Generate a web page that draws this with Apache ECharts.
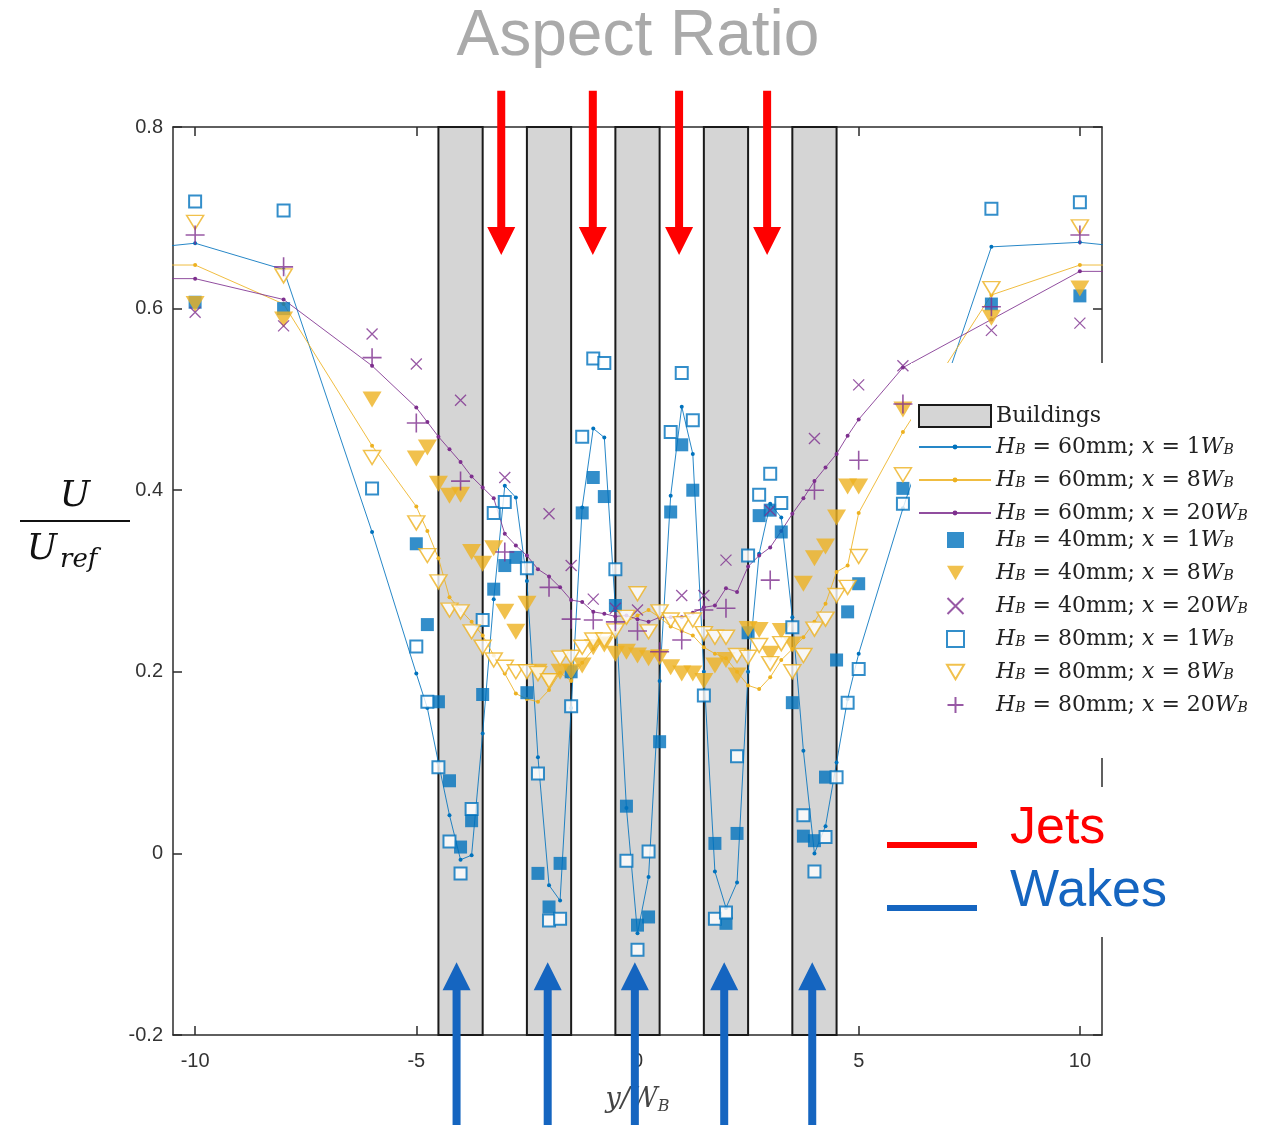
<!DOCTYPE html>
<html>
<head>
<meta charset="utf-8">
<title>Aspect Ratio</title>
<script src="https://cdn.jsdelivr.net/npm/echarts@6/dist/echarts.min.js"></script>
<style>
  html, body { margin: 0; padding: 0; background: #fff; }
  #chart { width: 1267px; height: 1125px; }
</style>
</head>
<body>
<div id="chart"></div>
<script>
// y/W_B positions: far field, every 0.25 W_B across the array, far field
const xGrid = [-10, -8, -6,
  -5, -4.75, -4.5, -4.25, -4, -3.75, -3.5, -3.25, -3, -2.75,
  -2.5, -2.25, -2, -1.75, -1.5, -1.25, -1, -0.75, -0.5, -0.25, 0,
  0.25, 0.5, 0.75, 1, 1.25, 1.5, 1.75, 2, 2.25, 2.5,
  2.75, 3, 3.25, 3.5, 3.75, 4, 4.25, 4.5, 4.75, 5,
  6, 8, 10]
// the H_B = 60mm lines run out past the frame
const xLine = [-11, -10, -8, -6,
  -5, -4.75, -4.5, -4.25, -4, -3.75, -3.5, -3.25, -3, -2.75,
  -2.5, -2.25, -2, -1.75, -1.5, -1.25, -1, -0.75, -0.5, -0.25, 0,
  0.25, 0.5, 0.75, 1, 1.25, 1.5, 1.75, 2, 2.25, 2.5,
  2.75, 3, 3.25, 3.5, 3.75, 4, 4.25, 4.5, 4.75, 5,
  6, 8, 10, 11]

// H_B = 60mm (lines)
const h60x1 = [0.667, 0.672, 0.643, 0.354,
  0.198, 0.160, 0.100, 0.042, -0.007, -0.002, 0.132, 0.280, 0.405, 0.392,
  0.300, 0.106, -0.035, -0.052, 0.160, 0.381, 0.468, 0.458, 0.270, 0.050, -0.088,
  -0.026, 0.190, 0.394, 0.492, 0.440, 0.200, -0.020, -0.060, -0.032, 0.200,
  0.330, 0.385, 0.370, 0.260, 0.113, 0.000, 0.030, 0.100, 0.170, 0.220,
  0.380, 0.668, 0.673, 0.668]
const h60x8 = [0.648, 0.648, 0.605, 0.449,
  0.382, 0.355, 0.325, 0.282, 0.268, 0.255, 0.240, 0.218, 0.198, 0.176,
  0.170, 0.167, 0.180, 0.199, 0.190, 0.210, 0.225, 0.235, 0.245, 0.255, 0.262,
  0.268, 0.260, 0.250, 0.245, 0.240, 0.227, 0.220, 0.215, 0.200, 0.185,
  0.181, 0.194, 0.213, 0.225, 0.238, 0.255, 0.275, 0.310, 0.317, 0.375,
  0.464, 0.615, 0.648, 0.648]
const h60x20 = [0.633, 0.633, 0.610, 0.537,
  0.491, 0.475, 0.459, 0.445, 0.431, 0.415, 0.403, 0.391, 0.352, 0.339,
  0.328, 0.313, 0.305, 0.293, 0.279, 0.277, 0.266, 0.264, 0.261, 0.262, 0.258,
  0.255, 0.260, 0.260, 0.260, 0.265, 0.271, 0.273, 0.292, 0.288, 0.316,
  0.328, 0.337, 0.355, 0.374, 0.391, 0.410, 0.425, 0.440, 0.460, 0.478,
  0.535, 0.588, 0.641, 0.641]

// H_B = 40mm (filled markers / x)
const h40x1 = [0.607, 0.600, null,
  0.341, 0.252, 0.167, 0.080, 0.007, 0.036, 0.175, 0.291, 0.317, 0.326,
  0.177, -0.022, -0.059, -0.011, 0.200, 0.375, 0.414, 0.393, 0.273, 0.052, -0.079,
  -0.070, 0.123, 0.376, 0.450, 0.400, null, 0.011, -0.077, 0.022, 0.243,
  0.372, 0.378, 0.354, 0.166, 0.019, 0.014, 0.084, 0.213, 0.266, 0.297,
  0.402, 0.605, 0.614]
const h40x8 = [0.605, 0.588, 0.500,
  0.435, 0.447, 0.407, 0.394, 0.395, 0.332, 0.319, 0.336, 0.266, 0.244,
  0.275, 0.200, 0.190, 0.200, 0.200, 0.207, 0.227, 0.230, 0.220, 0.222, 0.218,
  0.215, 0.216, 0.205, 0.198, 0.198, 0.190, 0.207, 0.213, 0.196, 0.247,
  0.246, 0.220, 0.245, 0.230, 0.297, 0.325, 0.338, 0.370, 0.404, 0.404,
  0.489, 0.590, 0.622]
const h40x20 = [0.596, 0.581, 0.572,
  0.539, null, null, null, 0.499, null, null, null, 0.414, null,
  null, null, 0.374, null, 0.317, null, 0.280, null, 0.270, null, 0.268,
  null, null, null, 0.284, null, 0.284, null, 0.323, null, null,
  null, 0.378, null, null, null, 0.457, null, null, null, 0.516,
  0.537, 0.576, 0.584]

// H_B = 80mm (open markers / +)
const h80x1 = [0.718, 0.708, 0.402,
  0.228, 0.167, 0.095, 0.013, -0.022, 0.049, 0.257, 0.375, 0.387, null,
  0.314, 0.088, -0.074, -0.072, 0.162, 0.459, 0.545, 0.540, 0.313, -0.008, -0.106,
  0.002, null, 0.464, 0.529, 0.477, 0.174, -0.072, -0.065, 0.107, 0.328,
  0.395, 0.418, 0.386, 0.249, 0.042, -0.020, 0.018, 0.084, 0.166, 0.203,
  0.385, 0.710, 0.717]
const h80x8 = [0.695, 0.636, 0.436,
  0.364, 0.328, 0.299, 0.268, 0.266, 0.244, 0.227, 0.213, 0.205, 0.200,
  0.200, 0.198, 0.190, 0.215, 0.216, 0.227, 0.235, 0.235, 0.245, 0.260, 0.286,
  0.244, 0.266, 0.257, 0.253, 0.257, 0.242, 0.238, 0.238, 0.218, 0.216,
  0.229, 0.209, 0.231, 0.200, 0.218, 0.247, 0.258, 0.284, 0.293, 0.327,
  0.417, 0.622, 0.690]
const h80x20 = [0.681, 0.646, 0.546,
  0.474, null, null, null, 0.410, null, null, null, 0.332, null,
  null, null, 0.293, null, 0.258, null, 0.257, null, 0.255, null, 0.245,
  null, 0.222, null, 0.235, null, 0.268, null, 0.270, null, null,
  null, 0.301, null, null, null, 0.400, null, null, null, 0.433,
  0.495, 0.602, 0.681]

// building footprints (y/W_B)
const buildLeft = [-4.5, -2.5, -0.5, 1.5, 3.5]
const buildRight = [-3.5, -1.5, 0.5, 2.5, 4.5]

// annotation arrows
const jetX = [-3.08, -1.01, 0.94, 2.93]
const wakeX = [-4.09, -2.03, -0.06, 1.96, 3.95]

const BLUE = '#0072BD'
const ORANGE = '#EDB120'
const PURPLE = '#7E2F8E'
const Y_MIN = -0.2
const Y_MAX = 0.8
const TRI_DOWN = 'path://M0,0L20,0L10,17Z'

const legendText = {
  l60x1: '{i|H}{s|B}{t| = 60mm; }{i|x}{t| = 1}{i|W}{s|B}',
  l60x8: '{i|H}{s|B}{t| = 60mm; }{i|x}{t| = 8}{i|W}{s|B}',
  l60x20: '{i|H}{s|B}{t| = 60mm; }{i|x}{t| = 20}{i|W}{s|B}',
  s40x1: '{i|H}{s|B}{t| = 40mm; }{i|x}{t| = 1}{i|W}{s|B}',
  s40x8: '{i|H}{s|B}{t| = 40mm; }{i|x}{t| = 8}{i|W}{s|B}',
  s40x20: '{i|H}{s|B}{t| = 40mm; }{i|x}{t| = 20}{i|W}{s|B}',
  s80x1: '{i|H}{s|B}{t| = 80mm; }{i|x}{t| = 1}{i|W}{s|B}',
  s80x8: '{i|H}{s|B}{t| = 80mm; }{i|x}{t| = 8}{i|W}{s|B}',
  s80x20: '{i|H}{s|B}{t| = 80mm; }{i|x}{t| = 20}{i|W}{s|B}'
}

function pairs(xs, ys) {
  return xs.map((x, i) => [x, ys[i]]).filter((p) => p[1] !== null)
}

function lineSeries(name, ys, color) {
  return {
    name: name,
    type: 'line',
    data: pairs(xLine, ys),
    symbol: 'circle',
    symbolSize: 4,
    showAllSymbol: true,
    lineStyle: { width: 1, color: color, opacity: 0.85 },
    itemStyle: { color: color },
    z: 2
  }
}

function arrow(color, yTail, yTip) {
  return function (params, api) {
    const tail = api.coord([api.value(0), yTail])
    const tip = api.coord([api.value(0), yTip])
    const dir = tip[1] > tail[1] ? 1 : -1
    const base = tip[1] - dir * 28
    const cx = tip[0]
    return {
      type: 'polygon',
      shape: {
        points: [[cx - 4, tail[1]], [cx + 4, tail[1]], [cx + 4, base], [cx + 14, base],
          [cx, tip[1]], [cx - 14, base], [cx - 4, base]]
      },
      style: { fill: color }
    }
  }
}

const rich = {
  g: { width: 27, lineHeight: 20 },
  t: { fontFamily: 'DejaVu Serif', fontSize: 22, lineHeight: 20, color: '#222' },
  i: { fontFamily: 'DejaVu Serif', fontStyle: 'italic', fontSize: 22, lineHeight: 20, color: '#222' },
  s: { fontFamily: 'DejaVu Serif', fontStyle: 'italic', fontSize: 14, lineHeight: 8, verticalAlign: 'bottom', color: '#222' }
}

const tickVals = [-10, -5, 0, 5, 10]
const axisLineStyle = { color: '#2b2b2b', width: 1.5 }

const chart = echarts.init(document.getElementById('chart'))
chart.setOption({
  animation: false,
  backgroundColor: '#fff',
  grid: { left: 173, right: 165, top: 127, bottom: 90, containLabel: false },
  xAxis: [
    {
      type: 'value', min: -10.5, max: 10.5, position: 'bottom',
      axisLine: { onZero: false, lineStyle: axisLineStyle },
      axisTick: { inside: true, length: 9, customValues: tickVals, lineStyle: axisLineStyle },
      axisLabel: { customValues: tickVals, margin: 16, fontSize: 20, color: '#333', fontFamily: 'Liberation Sans' },
      splitLine: { show: false },
      name: '{i|y/W}{s|B}',
      nameLocation: 'middle',
      nameGap: 50,
      nameTextStyle: {
        rich: {
          i: { fontFamily: 'DejaVu Serif', fontStyle: 'italic', fontSize: 27, color: '#444', lineHeight: 30 },
          s: { fontFamily: 'DejaVu Serif', fontStyle: 'italic', fontSize: 16, color: '#444', lineHeight: 10, verticalAlign: 'bottom' }
        }
      }
    },
    {
      type: 'value', min: -10.5, max: 10.5, position: 'top',
      axisLine: { onZero: false, lineStyle: axisLineStyle },
      axisTick: { inside: true, length: 9, customValues: tickVals, lineStyle: axisLineStyle },
      axisLabel: { show: false },
      splitLine: { show: false }
    }
  ],
  yAxis: [
    {
      type: 'value', min: Y_MIN, max: Y_MAX, interval: 0.2, position: 'left',
      axisLine: { show: true, onZero: false, lineStyle: axisLineStyle },
      axisTick: { show: true, inside: true, length: 9, lineStyle: axisLineStyle },
      axisLabel: { margin: 10, fontSize: 20, color: '#333', fontFamily: 'Liberation Sans' },
      splitLine: { show: false }
    },
    {
      type: 'value', min: Y_MIN, max: Y_MAX, interval: 0.2, position: 'right',
      axisLine: { show: true, onZero: false, lineStyle: axisLineStyle },
      axisTick: { show: true, inside: true, length: 9, lineStyle: axisLineStyle },
      axisLabel: { show: false },
      splitLine: { show: false }
    }
  ],
  legend: [
    {
      data: [{ name: 'Buildings', icon: 'rect' }],
      orient: 'vertical', left: 918, top: 404, padding: 0,
      itemWidth: 72, itemHeight: 22, symbolKeepAspect: false,
      selectedMode: false, z: 6,
      textStyle: { fontFamily: 'DejaVu Serif', fontSize: 22, lineHeight: 20, color: '#222' }
    },
    {
      data: ['l60x1', 'l60x8', 'l60x20'],
      orient: 'vertical', left: 918, top: 436, padding: 0,
      itemWidth: 72, itemHeight: 6, itemGap: 11,
      selectedMode: false, z: 6,
      formatter: (name) => legendText[name],
      textStyle: { rich: rich }
    },
    {
      data: ['s40x1', 's40x8', 's40x20', 's80x1', 's80x8', 's80x20'],
      orient: 'vertical', left: 946, top: 529, padding: 0,
      itemWidth: 17, itemHeight: 16, itemGap: 11,
      selectedMode: false, z: 6,
      formatter: (name) => '{g| }' + legendText[name],
      textStyle: { rich: Object.assign({}, rich, { g: { width: 27, lineHeight: 20 } }) }
    }
  ],
  graphic: [
    // legend panel and annotation panel pasted over the frame
    { type: 'rect', z: 3, shape: { x: 911, y: 363, width: 356, height: 395 }, style: { fill: '#fff' } },
    { type: 'rect', z: 3, shape: { x: 880, y: 787, width: 320, height: 150 }, style: { fill: '#fff' } },
    { type: 'rect', z: 4, shape: { x: 887, y: 842, width: 90, height: 6 }, style: { fill: '#ff0000' } },
    { type: 'rect', z: 4, shape: { x: 887, y: 905, width: 90, height: 6 }, style: { fill: '#1565c0' } },
    {
      type: 'text', z: 4, x: 1010, y: 829,
      style: { text: 'Jets', fill: '#ff0000', fontSize: 52, fontFamily: 'Liberation Sans', verticalAlign: 'middle', textVerticalAlign: 'middle' }
    },
    {
      type: 'text', z: 4, x: 1010, y: 892,
      style: { text: 'Wakes', fill: '#1565c0', fontSize: 52, fontFamily: 'Liberation Sans', verticalAlign: 'middle', textVerticalAlign: 'middle' }
    },
    {
      type: 'text', z: 4, x: 638, y: 37,
      style: { text: 'Aspect Ratio', fill: '#aaaaaa', fontSize: 64, fontFamily: 'Liberation Sans', align: 'center', textAlign: 'center', verticalAlign: 'middle', textVerticalAlign: 'middle' }
    },
    // y-axis label U / U_ref
    {
      type: 'text', z: 4, x: 75, y: 497,
      style: { text: 'U', fill: '#111', fontSize: 36, fontStyle: 'italic', fontFamily: 'DejaVu Serif', align: 'center', textAlign: 'center', verticalAlign: 'middle', textVerticalAlign: 'middle' }
    },
    { type: 'rect', z: 4, shape: { x: 20, y: 520, width: 110, height: 2 }, style: { fill: '#111' } },
    {
      type: 'text', z: 4, x: 42, y: 550,
      style: { text: 'U', fill: '#111', fontSize: 36, fontStyle: 'italic', fontFamily: 'DejaVu Serif', align: 'center', textAlign: 'center', verticalAlign: 'middle', textVerticalAlign: 'middle' }
    },
    {
      type: 'text', z: 4, x: 60, y: 560,
      style: { text: 'ref', fill: '#111', fontSize: 26, fontStyle: 'italic', fontFamily: 'DejaVu Serif', align: 'left', textAlign: 'left', verticalAlign: 'middle', textVerticalAlign: 'middle' }
    }
  ],
  series: [
    {
      name: 'Buildings',
      type: 'custom',
      data: buildLeft.map((x, i) => [x, buildRight[i], Y_MAX, Y_MIN]),
      encode: { x: [0, 1], y: [2, 3] },
      itemStyle: { color: '#d5d5d5', borderColor: '#1a1a1a', borderWidth: 2 },
      z: 1,
      renderItem: (params, api) => {
        const a = api.coord([api.value(0), api.value(2)])
        const b = api.coord([api.value(1), api.value(3)])
        return {
          type: 'rect',
          shape: { x: a[0], y: a[1], width: b[0] - a[0], height: b[1] - a[1] },
          style: { fill: '#d5d5d5', stroke: '#1a1a1a', lineWidth: 2 }
        }
      }
    },
    lineSeries('l60x1', h60x1, BLUE),
    lineSeries('l60x8', h60x8, ORANGE),
    lineSeries('l60x20', h60x20, PURPLE),
    {
      name: 's40x1', type: 'scatter', data: pairs(xGrid, h40x1),
      symbol: 'rect', symbolSize: 13, itemStyle: { color: BLUE }, z: 3
    },
    {
      name: 's40x8', type: 'scatter', data: pairs(xGrid, h40x8),
      symbol: TRI_DOWN, symbolSize: [19, 16], itemStyle: { color: ORANGE }, z: 3
    },
    {
      name: 's40x20', type: 'scatter', data: pairs(xGrid, h40x20),
      symbol: 'path://M0,0L20,20M20,0L0,20', symbolSize: 11,
      itemStyle: { color: 'transparent', borderColor: PURPLE, borderWidth: 1.3 }, z: 3
    },
    {
      name: 's80x1', type: 'scatter', data: pairs(xGrid, h80x1),
      symbol: 'rect', symbolSize: 12,
      itemStyle: { color: '#fff', borderColor: BLUE, borderWidth: 2 }, z: 3
    },
    {
      name: 's80x8', type: 'scatter', data: pairs(xGrid, h80x8),
      symbol: TRI_DOWN, symbolSize: [17, 14],
      itemStyle: { color: '#fff', borderColor: ORANGE, borderWidth: 1.5 }, z: 3
    },
    {
      name: 's80x20', type: 'scatter', data: pairs(xGrid, h80x20),
      symbol: 'path://M10,0L10,20M0,10L20,10', symbolSize: 19,
      itemStyle: { color: 'transparent', borderColor: PURPLE, borderWidth: 1.6 }, z: 3
    },
    {
      name: 'jets', type: 'custom', clip: false, z: 8, silent: true,
      data: jetX.map((x) => [x, 0.659]),
      renderItem: arrow('#ff0000', 0.84, 0.659)
    },
    {
      name: 'wakes', type: 'custom', clip: false, z: 8, silent: true,
      data: wakeX.map((x) => [x, -0.12]),
      renderItem: arrow('#1565c0', -0.32, -0.12)
    }
  ]
})
</script>
</body>
</html>
